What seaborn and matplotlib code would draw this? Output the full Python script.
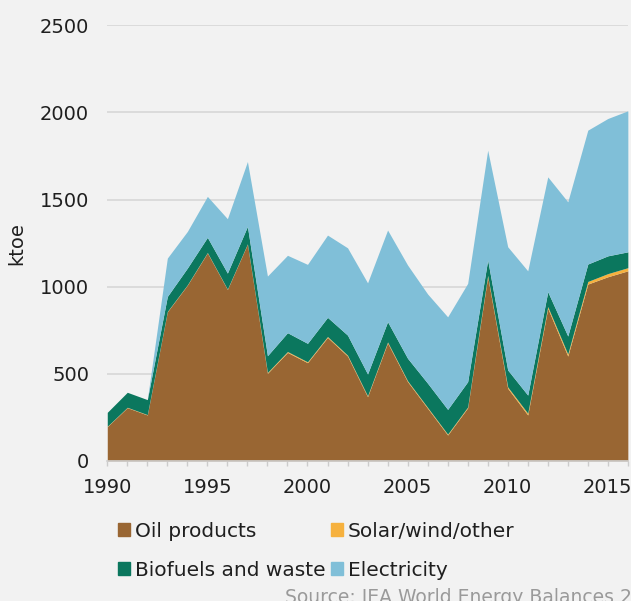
import matplotlib
matplotlib.use("Agg")
import matplotlib.pyplot as plt
import seaborn as sns
from matplotlib.patches import Patch

years = list(range(1990, 2017))
oil = [197, 306, 264, 856, 1009, 1194, 984, 1244, 503, 623,
       564, 709, 602, 369, 678, 455, 302, 149, 305, 1057,
       417, 264, 876, 602, 1015, 1057, 1091]
solar = [2, 2, 2, 2, 2, 2, 2, 2, 5, 5,
         5, 5, 5, 5, 5, 5, 5, 5, 5, 8,
         8, 10, 10, 12, 15, 18, 18]
biofuels = [80, 86, 86, 86, 96, 87, 92, 100, 96, 108,
            106, 110, 115, 125, 116, 129, 139, 142, 145, 88,
            97, 104, 85, 103, 100, 102, 91]
electricity = [0, 0, 0, 220, 210, 235, 312, 372, 457, 444,
               453, 472, 501, 523, 526, 535, 512, 531, 564, 630,
               707, 713, 659, 770, 768, 788, 809]

labels = ["Oil products", "Solar/wind/other", "Biofuels and waste", "Electricity"]
colors = ["#996633", "#f6b13e", "#0b775e", "#80bfd8"]

bg = "#f2f2f2"
txt = "#1f1f1f"
sns.set_theme(style="whitegrid", rc={"axes.facecolor": bg, "figure.facecolor": bg,
                                     "grid.color": "#d9d9d9", "grid.linewidth": 1.3})
plt.rcParams["font.family"] = ["DejaVu Sans"]

fig = plt.figure(figsize=(6.31, 6.01), dpi=100)
ax = fig.add_axes([0.17, 0.233, 0.825, 0.725])

ax.stackplot(years, oil, solar, biofuels, electricity, colors=colors, linewidth=0)

ax.set_xlim(1990, 2016)
ax.set_ylim(0, 2500)
ax.set_xticks(range(1990, 2016, 5))
ax.set_xticks(years, minor=True)
ax.set_yticks(range(0, 2501, 500))
ax.grid(axis="x", visible=False)
ax.grid(axis="y", visible=True)
ax.set_axisbelow(True)
for s in ["left", "right", "top"]:
    ax.spines[s].set_visible(False)
ax.spines["bottom"].set_color("#d0d0d0")
ax.spines["bottom"].set_linewidth(1.2)
ax.tick_params(axis="x", which="both", bottom=True, length=3.6, width=1, color="#cccccc",
               labelsize=14, labelcolor=txt, pad=9)
ax.tick_params(axis="y", left=False, length=0, labelsize=14, labelcolor=txt, pad=13)
ax.set_ylabel("ktoe", fontsize=14, color=txt, labelpad=10)

handles = [Patch(color=c) for c in colors]
order = [0, 2, 1, 3]
fig.legend([handles[i] for i in order], [labels[i] for i in order], ncol=2,
           loc="upper left", bbox_to_anchor=(0.187, 0.132), frameon=False,
           borderpad=0, borderaxespad=0,
           fontsize=14.5, handlelength=0.6, handleheight=0.6, handletextpad=0.25,
           columnspacing=0.25, labelspacing=1.0, labelcolor=txt)

fig.text(0.452, -0.004, "Source: IEA World Energy Balances 2018", fontsize=13.5,
         color="#9a9a9a", ha="left", va="baseline")

fig.savefig("out.png", dpi=100, facecolor=bg)
